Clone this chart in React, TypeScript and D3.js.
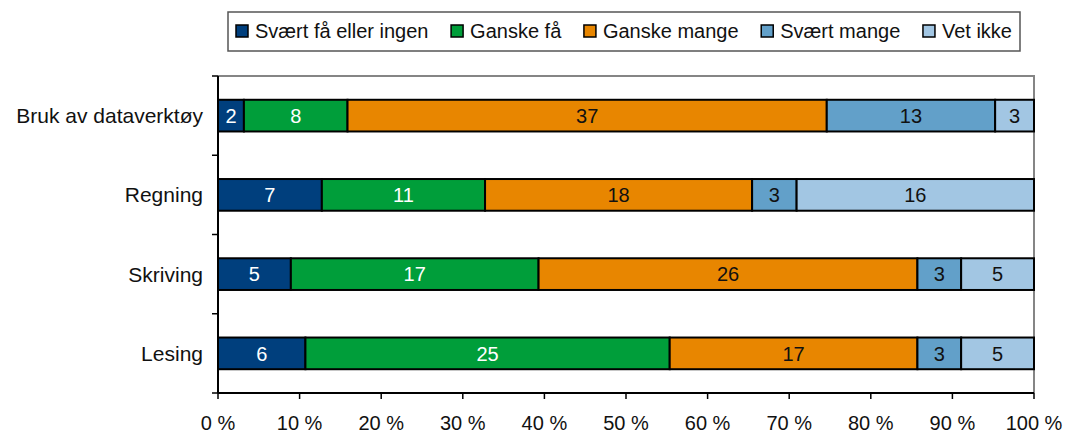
import * as d3 from "d3";
import { useEffect, useRef } from "react";

const categories = ["Bruk av dataverktøy", "Regning", "Skriving", "Lesing"];
const series = ["Svært få eller ingen", "Ganske få", "Ganske mange", "Svært mange", "Vet ikke"];
const colors = ["#003f7d", "#009e3a", "#e88600", "#62a0c9", "#a2c6e3"];
const labelColors = ["#ffffff", "#ffffff", "#111111", "#111111", "#111111"];

// counts per category, in series order
const svaertFaa = [2, 7, 5, 6];
const ganskeFaa = [8, 11, 17, 25];
const ganskeMange = [37, 18, 26, 17];
const svaertMange = [13, 3, 3, 3];
const vetIkke = [3, 16, 5, 5];

const xTicks = [0, 0.1, 0.2, 0.3, 0.4, 0.5, 0.6, 0.7, 0.8, 0.9, 1];

function App() {
  const ref = useRef<SVGSVGElement>(null);
  const width = 1066;
  const height = 434;
  const left = 218, right = 1034, top = 76, bottom = 393;
  const font = "'Liberation Sans', Arial, sans-serif";

  useEffect(() => {
    const svg = d3.select(ref.current);
    svg.selectAll("*").remove();

    const values = [svaertFaa, ganskeFaa, ganskeMange, svaertMange, vetIkke];
    const rows = categories.map((c, i) => {
      const row: any = { cat: c };
      series.forEach((s, j) => (row[s] = values[j][i]));
      return row;
    });
    const stacked = d3.stack().keys(series).offset(d3.stackOffsetExpand)(rows);

    const x = d3.scaleLinear().domain([0, 1]).range([left, right]);
    const y = d3.scaleBand().domain(categories).range([top, bottom]).paddingInner(0.6).paddingOuter(0.3);

    // plot frame (gray top/right)
    svg.append("path")
      .attr("d", `M${left},${top}H${right}V${bottom}`)
      .attr("fill", "none")
      .attr("stroke", "#858585")
      .attr("stroke-width", 2);

    const g = svg.append("g");
    stacked.forEach((layer, j) => {
      g.selectAll(null)
        .data(layer)
        .enter()
        .append("rect")
        .attr("x", (d) => x(d[0]))
        .attr("y", (d: any) => y(d.data.cat)!)
        .attr("width", (d) => x(d[1]) - x(d[0]))
        .attr("height", y.bandwidth())
        .attr("fill", colors[j])
        .attr("stroke", "#000")
        .attr("stroke-width", 2);

      g.selectAll(null)
        .data(layer)
        .enter()
        .append("text")
        .attr("x", (d) => (x(d[0]) + x(d[1])) / 2)
        .attr("y", (d: any) => y(d.data.cat)! + y.bandwidth() / 2)
        .attr("dy", "0.36em")
        .attr("text-anchor", "middle")
        .attr("fill", labelColors[j])
        .style("font-family", font)
        .style("font-size", "20px")
        .text((d: any) => d.data[series[j]]);
    });

    // left axis
    const yAxis = svg.append("g");
    yAxis.append("line")
      .attr("x1", left).attr("x2", left).attr("y1", top).attr("y2", bottom)
      .attr("stroke", "#000").attr("stroke-width", 2);
    const boundaries = [top, ...categories.map((c) => y(c)! + y.bandwidth() / 2 + y.step() / 2)];
    yAxis.selectAll(null)
      .data(boundaries)
      .enter()
      .append("line")
      .attr("x1", left - 6).attr("x2", left)
      .attr("y1", (d) => d).attr("y2", (d) => d)
      .attr("stroke", "#000").attr("stroke-width", 1.5);
    yAxis.selectAll(null)
      .data(categories)
      .enter()
      .append("text")
      .attr("x", 203)
      .attr("y", (d) => y(d)! + y.bandwidth() / 2)
      .attr("dy", "0.36em")
      .attr("text-anchor", "end")
      .attr("fill", "#111")
      .style("font-family", font)
      .style("font-size", "21px")
      .text((d) => d);

    // bottom axis
    const xAxis = svg.append("g");
    xAxis.append("line")
      .attr("x1", left).attr("x2", right).attr("y1", bottom).attr("y2", bottom)
      .attr("stroke", "#000").attr("stroke-width", 2);
    xAxis.selectAll(null)
      .data(xTicks)
      .enter()
      .append("line")
      .attr("x1", (d) => x(d)).attr("x2", (d) => x(d))
      .attr("y1", bottom).attr("y2", bottom + 6)
      .attr("stroke", "#000").attr("stroke-width", 1.5);
    xAxis.selectAll(null)
      .data(xTicks)
      .enter()
      .append("text")
      .attr("x", (d) => x(d))
      .attr("y", 423)
      .attr("dy", "0.36em")
      .attr("text-anchor", "middle")
      .attr("fill", "#111")
      .style("font-family", font)
      .style("font-size", "20px")
      .text((d) => `${Math.round(d * 100)} %`);

    // legend: items laid out to span the box, spacing from measured text widths
    const legend = svg.append("g");
    legend.append("rect")
      .attr("x", 228).attr("y", 12).attr("width", 792).attr("height", 39)
      .attr("fill", "#fff").attr("stroke", "#555").attr("stroke-width", 1.5);
    const startX = 236, endX = 1012, sw = 12, textGap = 7;
    const items = series.map((s, j) => {
      const item = legend.append("g");
      item.append("rect")
        .attr("y", 25).attr("width", sw).attr("height", sw)
        .attr("fill", colors[j]).attr("stroke", "#000").attr("stroke-width", 1.5);
      const t = item.append("text")
        .attr("x", sw + textGap)
        .attr("y", 31)
        .attr("dy", "0.36em")
        .attr("fill", "#111")
        .style("font-family", font)
        .style("font-size", "20px")
        .text(s);
      const w = sw + textGap + (t.node() as SVGTextElement).getComputedTextLength();
      return { item, w };
    });
    const total = d3.sum(items, (d) => d.w);
    const gap = (endX - startX - total) / (items.length - 1);
    let cx = startX;
    items.forEach(({ item, w }) => {
      item.attr("transform", `translate(${cx},0)`);
      cx += w + gap;
    });
  }, []);

  return (
    <svg ref={ref} width={width} height={height} style={{ position: "absolute", left: 0, top: 0 }} />
  );
}

export default App;
